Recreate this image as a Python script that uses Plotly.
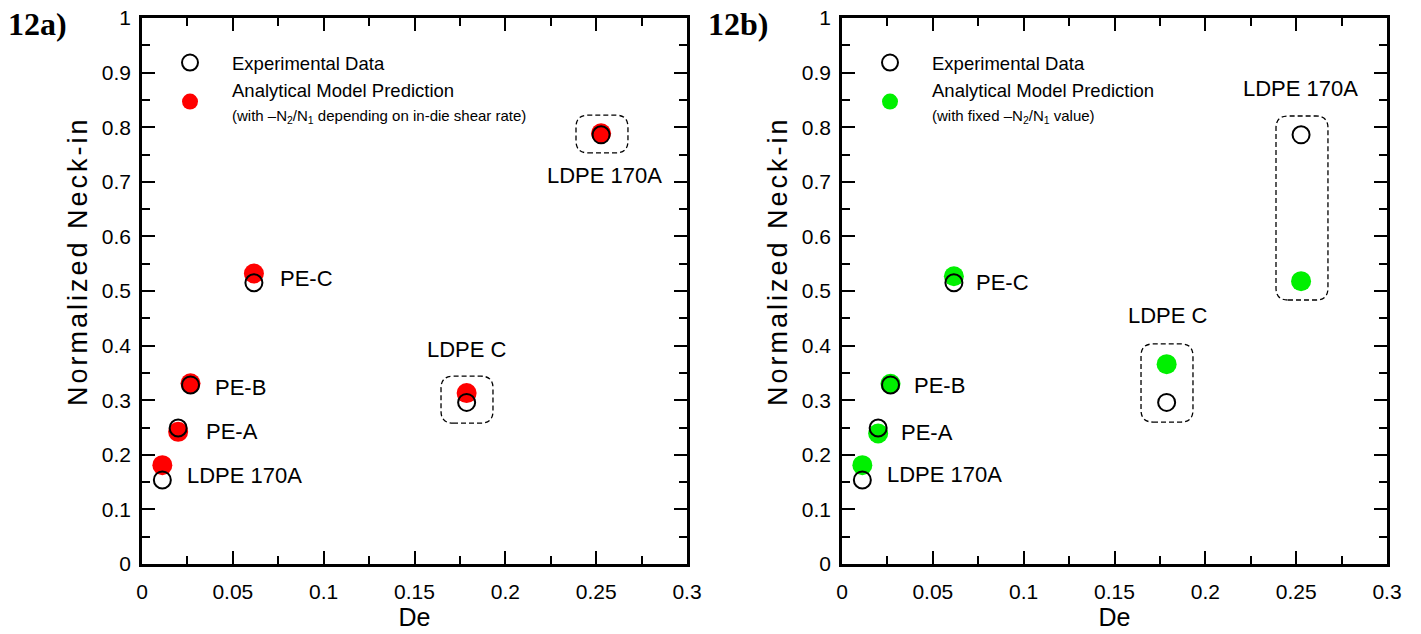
import plotly.graph_objects as go

# ---------------- data ----------------
grades = ["LDPE 170A", "PE-A", "PE-B", "PE-C", "LDPE C", "LDPE 170A"]
de = [0.0112, 0.0199, 0.0267, 0.0616, 0.1787, 0.2527]
exp_neckin = [0.154, 0.249, 0.328, 0.515, 0.296, 0.786]
model_shear = [0.181, 0.242, 0.331, 0.532, 0.313, 0.789]   # panel 12a
model_fixed = [0.181, 0.239, 0.330, 0.527, 0.366, 0.518]   # panel 12b

x_tickvals = [0, 0.05, 0.1, 0.15, 0.2, 0.25, 0.3]
x_ticktext = ["0", "0.05", "0.1", "0.15", "0.2", "0.25", "0.3"]
y_tickvals = [0, 0.1, 0.2, 0.3, 0.4, 0.5, 0.6, 0.7, 0.8, 0.9, 1]
y_ticktext = ["0", "0.1", "0.2", "0.3", "0.4", "0.5", "0.6", "0.7", "0.8", "0.9", "1"]

# label offsets (pixels) relative to the experimental point
lab_a = dict(dx=[23, 26, 22, 24, 0, 3], dy=[4, -3, -3, 4, 53, -41],
             anchor=["left", "left", "left", "left", "center", "center"])
lab_b = dict(dx=[23, 21, 21, 20, 1, -1], dy=[5, -4, -1, 0, 87, 46],
             anchor=["left", "left", "left", "left", "center", "center"])

# dashed grouping boxes (x0, x1, y0, y1)
boxes_a = [(0.2389, 0.2675, 0.753, 0.822), (0.1646, 0.1932, 0.258, 0.344)]
boxes_b = [(0.2389, 0.2675, 0.4835, 0.8205), (0.1646, 0.1932, 0.260, 0.403)]

FONT = "Liberation Sans, Arial, Helvetica, sans-serif"
SERIF = "Liberation Serif, Times New Roman, serif"

fig = go.Figure()

def add_panel(xa, ya, model, color, legend, note):
    fig.add_trace(go.Scatter(
        x=de, y=model, mode="markers", xaxis=xa, yaxis=ya, legend=legend,
        name=("Analytical Model Prediction<br><span style='font-size:15px'>"
              "(with " + note + ")</span>"),
        legendrank=2, legendgroup=legend + "m",
        marker=dict(symbol="circle", size=20, color=color, line=dict(width=0)),
        cliponaxis=False, hoverinfo="x+y"))
    fig.add_trace(go.Scatter(
        x=de, y=exp_neckin, mode="markers", xaxis=xa, yaxis=ya, legend=legend,
        name="Experimental Data", legendrank=1, legendgroup=legend + "e",
        marker=dict(symbol="circle-open", size=17, color="black", line=dict(width=2)),
        cliponaxis=False, hoverinfo="x+y"))

add_panel("x", "y", model_shear, "#ff0000", "legend",
          "\u2013N<sub>2</sub>/N<sub>1</sub> depending on in-die shear rate")
add_panel("x2", "y2", model_fixed, "#00f000", "legend2",
          "fixed \u2013N<sub>2</sub>/N<sub>1</sub> value")

annotations = []
for xref, yref, lab in (("x", "y", lab_a), ("x2", "y2", lab_b)):
    for i, g in enumerate(grades):
        annotations.append(dict(
            x=de[i], y=exp_neckin[i], xref=xref, yref=yref, text=g, showarrow=False,
            xanchor=lab["anchor"][i], yanchor="middle",
            xshift=lab["dx"][i], yshift=lab["dy"][i],
            font=dict(family=FONT, size=22, color="black")))

for px, lbl in ((6, "12a)"), (706, "12b)")):
    annotations.append(dict(x=px / 1421, y=1 - 24 / 634, xref="paper", yref="paper",
                            text="<b>" + lbl + "</b>", showarrow=False,
                            xanchor="left", yanchor="middle",
                            font=dict(family=SERIF, size=32, color="black")))

# y-axis titles (placed as in the original figure, slightly above axis centre)
for px in (78, 778):
    annotations.append(dict(x=px / 1421, y=1 - 261 / 634, xref="paper", yref="paper",
                            text="<span style='letter-spacing:3px'>Normalized Neck-in</span>",
                            textangle=-90, showarrow=False, xanchor="center", yanchor="middle",
                            font=dict(family=FONT, size=27, color="black")))

def rounded_box(x0, x1, y0, y1, rx=0.0066, ry=0.022):
    return (f"M{x0+rx},{y0} L{x1-rx},{y0} Q{x1},{y0} {x1},{y0+ry} "
            f"L{x1},{y1-ry} Q{x1},{y1} {x1-rx},{y1} L{x0+rx},{y1} "
            f"Q{x0},{y1} {x0},{y1-ry} L{x0},{y0+ry} Q{x0},{y0} {x0+rx},{y0} Z")

shapes = []
for xref, yref, boxes in (("x", "y", boxes_a), ("x2", "y2", boxes_b)):
    for b in boxes:
        shapes.append(dict(type="path", path=rounded_box(*b), xref=xref, yref=yref,
                           line=dict(color="black", width=1.3, dash="5px,3px")))

def xaxis(domain, anchor):
    return dict(domain=domain, anchor=anchor, range=[0, 0.3],
                tickvals=x_tickvals, ticktext=x_ticktext,
                showline=True, linewidth=2.5, linecolor="black", mirror="ticks",
                ticks="inside", ticklen=13, tickwidth=2, tickcolor="black",
                minor=dict(ticks="inside", ticklen=8, tickwidth=2, tickcolor="black",
                           dtick=0.025, tick0=0, showgrid=False),
                showgrid=False, zeroline=False, ticklabelstandoff=7,
                tickfont=dict(family=FONT, size=21, color="black"),
                title=dict(text="De", standoff=0, font=dict(family=FONT, size=25, color="black")))

def yaxis(domain, anchor):
    return dict(domain=domain, anchor=anchor, range=[0, 1], tickvals=y_tickvals, ticktext=y_ticktext,
                showline=True, linewidth=2.5, linecolor="black", mirror="ticks",
                ticks="inside", ticklen=13, tickwidth=2, tickcolor="black",
                minor=dict(ticks="inside", ticklen=8, tickwidth=2, tickcolor="black",
                           dtick=0.05, tick0=0, showgrid=False),
                showgrid=False, zeroline=False, ticklabelstandoff=4,
                tickfont=dict(family=FONT, size=21, color="black"))

ydom = [70 / 634, 616 / 634]
legend_common = dict(xanchor="left", yanchor="top", xref="paper", yref="paper",
                     bgcolor="rgba(0,0,0,0)", itemwidth=74, tracegroupgap=6,
                     traceorder="normal", itemclick=False,
                     font=dict(family=FONT, size=18.5, color="black"))

fig.update_layout(
    width=1421, height=634,
    margin=dict(l=0, r=0, t=0, b=0, pad=0, autoexpand=False),
    paper_bgcolor="white", plot_bgcolor="white", showlegend=True,
    xaxis=xaxis([142 / 1421, 687 / 1421], "y"),
    xaxis2=xaxis([842 / 1421, 1387 / 1421], "y2"),
    yaxis=yaxis(ydom, "x"),
    yaxis2=yaxis(ydom, "x2"),
    legend=dict(legend_common, x=148 / 1421, y=1 - 44 / 634),
    legend2=dict(legend_common, x=848 / 1421, y=1 - 44 / 634),
    annotations=annotations, shapes=shapes,
)

fig.write_html("out.html")
